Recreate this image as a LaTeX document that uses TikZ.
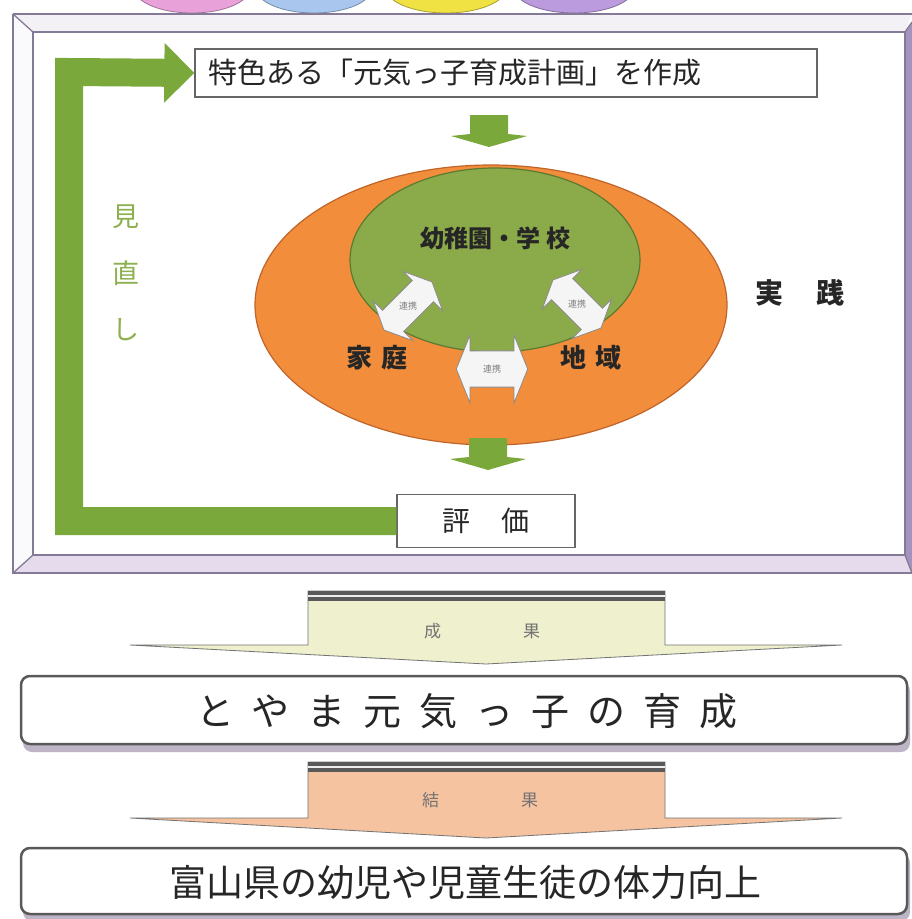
\documentclass[tikz,border=0pt]{standalone}
\usepackage{fontspec}
\setmainfont{Noto Sans CJK JP}
\usetikzlibrary{shapes.geometric,arrows.meta}
\definecolor{gArrow}{HTML}{7BA83A}
\definecolor{gText}{HTML}{8DB04E}
\definecolor{orFill}{HTML}{F18D3B}
\definecolor{orOut}{HTML}{C0642A}
\definecolor{grFill}{HTML}{8BAA4A}
\definecolor{grOut}{HTML}{5C7A30}
\definecolor{frLine}{HTML}{857A95}
\definecolor{bandTop}{HTML}{F4F1F6}
\definecolor{bandLeft}{HTML}{FAF9FB}
\definecolor{bandBot}{HTML}{E5DBEC}
\definecolor{bandRight}{HTML}{A393BE}
\definecolor{resA}{HTML}{EEF0CE}
\definecolor{resB}{HTML}{F6C3A0}
\definecolor{shadowC}{HTML}{BDB4C6}
\definecolor{pinkE}{HTML}{E9A2D9}
\definecolor{blueE}{HTML}{A9C6EF}
\definecolor{yellowE}{HTML}{F1E244}
\definecolor{purpleE}{HTML}{BB9BDD}
\newcommand\gapT{\hspace{18pt}}
\begin{document}
\begin{tikzpicture}[x=1pt,y=-1pt,
  fs/.style={font=\fontsize{#1}{#1}\selectfont},
  fsb/.style={font=\fontsize{#1}{#1}\selectfont\bfseries},
  planbox/.style={draw=black!60, line width=1.3pt, fill=white, inner sep=0pt},
  resbox/.style={draw=black!65, line width=2.5pt, rounded corners=9pt, fill=white, inner sep=0pt, minimum width=886pt},
  frameline/.style={draw=frLine, line width=1.3pt},
  linkarrow/.style={fill=white!92!gray, draw=black!45, line width=0.8pt},
  linklabel/.style={font=\fontsize{9}{9}\selectfont, text=black!50},
  bigarrow/.style={draw=black!55, line width=0.8pt},
  pics/link/.style={code={
    \filldraw[linkarrow] (-34,0) -- (-21,-28) -- (-21,-15) -- (21,-15) -- (21,-28) -- (34,0)
      -- (21,28) -- (21,15) -- (-21,15) -- (-21,28) -- cycle;
    \node[linklabel] {連携};
  }},
  pics/downarrow/.style={code={
    \fill[gArrow] (-19,0) -- (19,0) -- (19,19) -- (38,21) -- (0,32) -- (-38,21) -- (-19,19) -- cycle;
  }}
]
\useasboundingbox (0,0) rectangle (912,919);
\fill[white] (0,0) rectangle (912,919);

% partly visible ellipses at the top edge
\begin{scope}
\clip (0,0) rectangle (912,919);
\filldraw[fill=pinkE, draw=pinkE!70!black, line width=0.8pt] (192,-12) ellipse [x radius=58, y radius=25];
\filldraw[fill=blueE, draw=blueE!70!black, line width=0.8pt] (314,-12) ellipse [x radius=58, y radius=25];
\filldraw[fill=yellowE, draw=yellowE!70!black, line width=0.8pt] (446,-12) ellipse [x radius=60, y radius=25];
\filldraw[fill=purpleE, draw=purpleE!70!black, line width=0.8pt] (574,-12) ellipse [x radius=60, y radius=25];
\end{scope}

% bevelled frame
\fill[bandTop] (13,14) -- (912,14) -- (905,32) -- (33,32) -- cycle;
\fill[bandLeft] (13,14) -- (33,32) -- (33,555) -- (13,573) -- cycle;
\fill[bandBot] (13,573) -- (33,555) -- (905,555) -- (912,573) -- cycle;
\fill[bandRight] (905,32) -- (912,22) -- (912,573) -- (905,555) -- cycle;
\draw[frameline] (13,14) -- (912,14);
\draw[frameline] (13,14) -- (13,573) -- (912,573);
\draw[frameline] (33,32) rectangle (905,555);
\draw[frameline] (13,14) -- (33,32);
\draw[frameline] (13,573) -- (33,555);
\draw[frameline] (905,555) -- (912,573);
\draw[frameline] (905,32) -- (912,22);

% plan box
\node[planbox, minimum width=622pt, minimum height=48pt] (plan) at (506,73) {};
\node[fs=29, anchor=west, text=black!85] (plantxt) at (205,73) {特色ある「元気っ子育成計画」を作成};

% evaluation box
\node[planbox, minimum width=178pt, minimum height=53pt, fs=28, text=black!85] (ev) at (486,521) {評\hspace{32pt}価};

% review loop arrow
\draw[line width=28pt, draw=gArrow, -{Triangle[length=30pt,width=58pt]}] (ev.west) -| (69,72) -- (plan.west);
\node[fs=27, text=gText] (mi1) at (126,217) {見};
\node[fs=27, text=gText] (mi2) at (126,273) {直};
\node[fs=27, text=gText] (mi3) at (126,330) {し};

% practice ellipses
\node[ellipse, draw=orOut, fill=orFill, line width=1.2pt, minimum width=472pt, minimum height=280pt, inner sep=0pt] (comm) at (491,305) {};
\node[ellipse, draw=grOut, fill=grFill, line width=1.2pt, minimum width=290pt, minimum height=184pt, inner sep=0pt] (school) at (495,260) {};
\node[fsb=24, text=black!85] (schooltxt) at (495,238) {幼稚園・学\hspace{6pt}校};
\node[fsb=26, text=black!85] (home) at (377,358) {家\hspace{10pt}庭};
\node[fsb=26, text=black!85] (area) at (591,358) {地\hspace{10pt}域};
\node[fsb=28, text=black!85] (jissen) at (800,293) {実\hspace{33pt}践};

% link arrows
\pic[rotate=45] at (408,306) {link};
\pic[rotate=-45] at (577,304) {link};
\pic[scale=1.05, yscale=1.15] at (492,369) {link};

% small green down arrows
\pic at (489,115) {downarrow};
\pic at (488,438) {downarrow};

% result arrow 1
\filldraw[bigarrow, fill=resA] (308,591) -- (665,591) -- (665,645) -- (842,645) -- (486,664) -- (130,645) -- (308,645) -- cycle;
\fill[black!65] (308,591) rectangle (665,601);
\draw[white!85!gray, line width=1.2pt] (308,596) -- (665,596);
\node[fs=17, text=black!55] (seika) at (482,631) {成\hspace{82pt}果};

% box 1
\fill[shadowC, rounded corners=9pt] (23,682) rectangle (910,752);
\node[resbox, minimum height=68pt] (box1) at (464,710) {};
\node[fs=38, text=black!85] (box1txt) at (467,711) {と\gapT や\gapT ま\gapT 元\gapT 気\gapT っ\gapT 子\gapT の\gapT 育\gapT 成};

% result arrow 2
\filldraw[bigarrow, fill=resB] (308,762) -- (665,762) -- (665,818) -- (842,818) -- (486,838) -- (130,818) -- (308,818) -- cycle;
\fill[black!65] (308,762) rectangle (665,772);
\draw[white!85!gray, line width=1.2pt] (308,767) -- (665,767);
\node[fs=17, text=black!55] (kekka) at (480,800) {結\hspace{82pt}果};

% box 2
\fill[shadowC, rounded corners=9pt] (23,854) rectangle (910,921);
\node[resbox, minimum height=66pt] (box2) at (464,881) {};
\node[fs=37, text=black!85] (box2txt) at (465,882) {富山県の幼児や児童生徒の体力向上};
\end{tikzpicture}
\end{document}
